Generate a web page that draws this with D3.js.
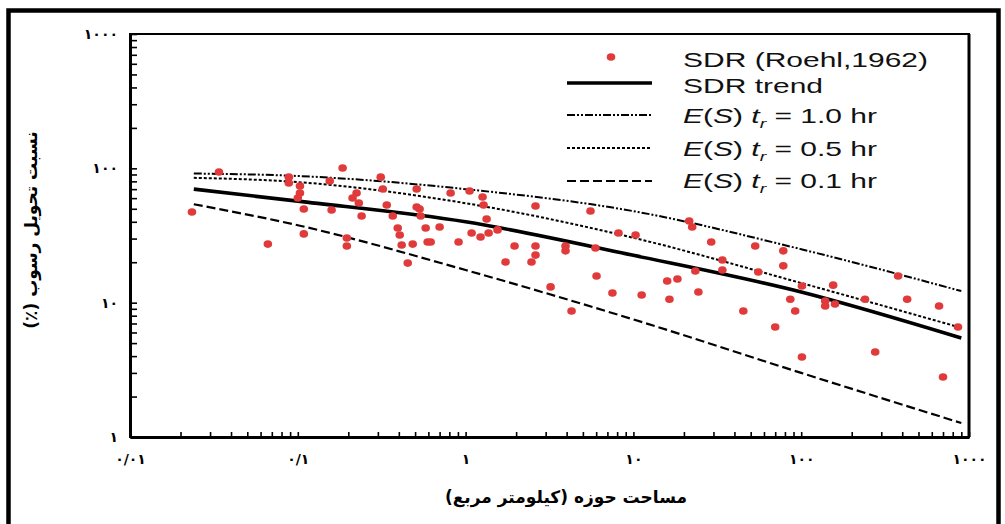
<!DOCTYPE html>
<html>
<head>
<meta charset="utf-8">
<script src="https://cdn.jsdelivr.net/npm/d3@7"></script>
<style>
    body { margin: 0; background: #fff; }
    svg { display: block; }
</style>
</head>
<body>
<div id="chart"></div>
<script>
// catchment area (km2) where the curves were read
var curveArea = [0.024, 0.1, 1, 10, 100, 900];
// SDR (%) of each curve at those areas
var sdrTrend = [70, 57, 40, 22.5, 12, 5.45];
var es10 = [91.5, 87.7, 70, 48, 25, 12.2];
var es05 = [85, 79, 55, 30.4, 14, 6.5];
var es01 = [54, 37.7, 17.5, 7.5, 3.0, 1.27];

// Roehl (1962) observations: area (km2) and SDR (%)
var pointArea = [0.0234, 0.0339, 0.0663, 0.0884, 0.0884, 0.103, 0.103, 0.1, 0.1086, 0.1086,
    0.185, 0.155, 0.312, 0.321, 0.224, 0.212, 0.231, 0.159, 0.240, 0.339,
    0.368, 0.511, 0.511, 0.532, 0.540, 0.394, 0.405, 0.196, 0.196, 0.416,
    0.484, 0.578, 0.700, 0.594, 0.619, 0.452, 0.814, 1.056, 1.262, 1.28,
    1.334, 0.908, 1.086, 1.228, 1.371, 1.55, 1.958, 1.73, 2.61, 5.55,
    2.61, 2.61, 2.47, 3.21, 3.94, 3.94, 4.28, 5.94, 6.03, 7.5,
    8.15, 10.3, 11.2, 15.9, 18.3, 16.4, 21.5, 22.4, 23.4, 24.4,
    29.1, 33.9, 33.9, 45.2, 53.2, 78.2, 78.2, 55.5, 70.0, 101,
    86.1, 92.1, 139, 139, 159, 155, 240, 378, 428, 663,
    860, 101, 276, 700];
var pointSdr = [47.3, 94, 27.3, 86, 77.8, 73.9, 65.5, 60.1, 49.8, 32.5,
    100.6, 80.5, 86, 70.2, 65.5, 60.1, 55.2, 49.0, 44.2, 53.3,
    44.2, 70.2, 51.5, 49.8, 44.2, 36.0, 31.9, 30.3, 26.4, 26.9,
    27.3, 36.0, 36.6, 28.3, 28.3, 19.7, 65.5, 67.8, 61.2, 53.3,
    42.0, 28.3, 33.0, 30.8, 33.0, 34.8, 26.4, 20.1, 52.4, 48.1,
    26.4, 22.6, 20.1, 13.1, 26.4, 24.3, 8.67, 25.5, 15.8, 11.8,
    33.0, 31.9, 11.4, 14.5, 15.0, 10.6, 40.5, 36.6, 17.2, 12.0,
    28.3, 20.8, 17.5, 8.67, 26.4, 24.3, 18.8, 16.9, 6.59, 13.3,
    10.6, 8.67, 10.3, 9.44, 9.78, 13.5, 10.6, 15.8, 10.6, 9.44,
    6.59, 3.94, 4.29, 2.80];

var xDecades = [0.01, 0.1, 1, 10, 100, 1000];
var xTickLabels = ['۰/۰۱', '۰/۱', '۱', '۱۰', '۱۰۰', '۱۰۰۰'];
var yDecades = [1, 10, 100, 1000];
var yTickLabels = ['۱', '۱۰', '۱۰۰', '۱۰۰۰'];

var xTitle = 'مساحت حوزه (کیلومتر مربع)';
var yTitle = 'نسبت تحویل رسوب (٪)';

var legendRows = [
    { name: 'SDR (Roehl,1962)', kind: 'dot' },
    { name: 'SDR trend', kind: 'solid', values: sdrTrend },
    { name: '1.0', kind: 'dashdot', values: es10 },
    { name: '0.5', kind: 'dotted', values: es05 },
    { name: '0.1', kind: 'dashed', values: es01 }
];

var lineStyle = {
    solid: { w: 3.6, dash: null },
    dashdot: { w: 2, dash: '8,2,2,2,2,2' },
    dotted: { w: 2, dash: '3,2' },
    dashed: { w: 2.2, dash: '9,4' }
};

var W = 1005, H = 524;
var svg = d3.select('#chart').append('svg').attr('width', W).attr('height', H);

// outer frame of the figure
svg.append('rect')
    .attr('x', 8.5).attr('y', 10.5)
    .attr('width', 990).attr('height', 530)
    .style('fill', 'none').style('stroke', '#000').style('stroke-width', 4.5);

var x = d3.scaleLog().domain([0.01, 1000]).range([130, 969]);
var y = d3.scaleLog().domain([1, 1000]).range([437, 34]);

function minorTicks(decades) {
    var t = [];
    decades.forEach(function(d, i) {
        if (i == decades.length - 1) { t.push(d); return; }
        for (var k = 1; k < 10; k++) t.push(k == 1 ? d : d * k);
    });
    return t;
}

// plot box (top and right edges)
svg.append('rect')
    .attr('x', x.range()[0]).attr('y', y.range()[1])
    .attr('width', x.range()[1] - x.range()[0])
    .attr('height', y.range()[0] - y.range()[1])
    .style('fill', 'none').style('stroke', '#000').style('stroke-width', 2);
svg.append('line')
    .attr('x1', x.range()[1]).attr('x2', x.range()[1])
    .attr('y1', y.range()[1]).attr('y2', y.range()[0])
    .style('stroke', '#000').style('stroke-width', 3);

var xAxis = d3.axisBottom(x)
    .tickValues(minorTicks(xDecades))
    .tickSize(-5).tickSizeOuter(0).tickPadding(22)
    .tickFormat(function(d) {
        var i = xDecades.indexOf(d);
        return i < 0 ? '' : xTickLabels[i];
    });

var yAxis = d3.axisLeft(y)
    .tickValues(minorTicks(yDecades))
    .tickSize(-7).tickSizeOuter(0).tickPadding(12)
    .tickFormat(function(d) {
        var i = yDecades.indexOf(d);
        return i < 0 ? '' : yTickLabels[i];
    });

var gx = svg.append('g').attr('transform', 'translate(0,' + y.range()[0] + ')').call(xAxis);
var gy = svg.append('g').attr('transform', 'translate(' + x.range()[0] + ',0)').call(yAxis);

[gx, gy].forEach(function(g) {
    g.select('.domain').style('stroke-width', 3);
    g.selectAll('.tick line').style('stroke-width', 1.6);
    g.selectAll('.tick text')
        .attr('font-family', 'DejaVu Sans, sans-serif')
        .attr('font-size', 14)
        .attr('font-weight', 'bold')
        .style('fill', '#000');
});
gx.selectAll('.tick text').attr('dy', '0.35em');

// axis titles (right-to-left text)
svg.append('text')
    .attr('x', 566).attr('y', 503)
    .attr('direction', 'rtl')
    .attr('text-anchor', 'middle')
    .attr('font-family', 'DejaVu Sans, sans-serif')
    .attr('font-size', 17)
    .attr('font-weight', 'bold')
    .text(xTitle);

svg.append('text')
    .attr('transform', 'translate(37,230) rotate(-90)')
    .attr('direction', 'rtl')
    .attr('text-anchor', 'middle')
    .attr('font-family', 'DejaVu Sans, sans-serif')
    .attr('font-size', 17)
    .attr('font-weight', 'bold')
    .text(yTitle);

// curves
var line = d3.line()
    .x(function(d, i) { return x(curveArea[i]); })
    .y(function(d) { return y(d); })
    .curve(d3.curveMonotoneX);

var plot = svg.append('g').attr('class', 'vis-group');

legendRows.filter(function(r) { return r.values; }).forEach(function(r) {
    var st = lineStyle[r.kind];
    plot.append('path')
        .attr('d', line(r.values))
        .style('fill', 'none')
        .style('stroke', '#000')
        .style('stroke-width', st.w)
        .style('stroke-dasharray', st.dash);
});

// observations
plot.selectAll('ellipse.obs')
    .data(pointArea)
    .enter().append('ellipse')
    .attr('class', 'obs')
    .attr('cx', function(d) { return x(d); })
    .attr('cy', function(d, i) { return y(pointSdr[i]); })
    .attr('rx', 4.3)
    .attr('ry', 3.8)
    .style('fill', '#e03a3a');

// legend
var legY = [57, 83, 115, 148, 181];
var txtY = [67, 93, 123, 156, 188];
var leg = svg.append('g').attr('class', 'legend');

legendRows.forEach(function(r, i) {
    if (r.kind == 'dot') {
        leg.append('ellipse')
            .attr('cx', 611).attr('cy', legY[i])
            .attr('rx', 4.3).attr('ry', 3.8)
            .style('fill', '#e03a3a');
    } else {
        var st = lineStyle[r.kind];
        leg.append('line')
            .attr('x1', 567).attr('x2', 652)
            .attr('y1', legY[i]).attr('y2', legY[i])
            .style('stroke', '#000')
            .style('stroke-width', st.w)
            .style('stroke-dasharray', st.dash);
    }

    var t = leg.append('g')
        .attr('transform', 'translate(683,' + txtY[i] + ') scale(1.5,1)')
        .append('text')
        .attr('font-family', 'Liberation Sans, Arial, sans-serif')
        .attr('font-size', 20)
        .style('fill', '#111');

    if (i < 2) {
        t.text(r.name);
    } else {
        t.append('tspan').attr('font-style', 'italic').text('E');
        t.append('tspan').text('(');
        t.append('tspan').attr('font-style', 'italic').text('S');
        t.append('tspan').text(') ');
        t.append('tspan').attr('font-style', 'italic').text('t');
        t.append('tspan').attr('font-style', 'italic').attr('font-size', 13).attr('dy', 5).text('r');
        t.append('tspan').attr('dy', -5).text(' = ' + r.name + ' hr');
    }
});
</script>
</body>
</html>
